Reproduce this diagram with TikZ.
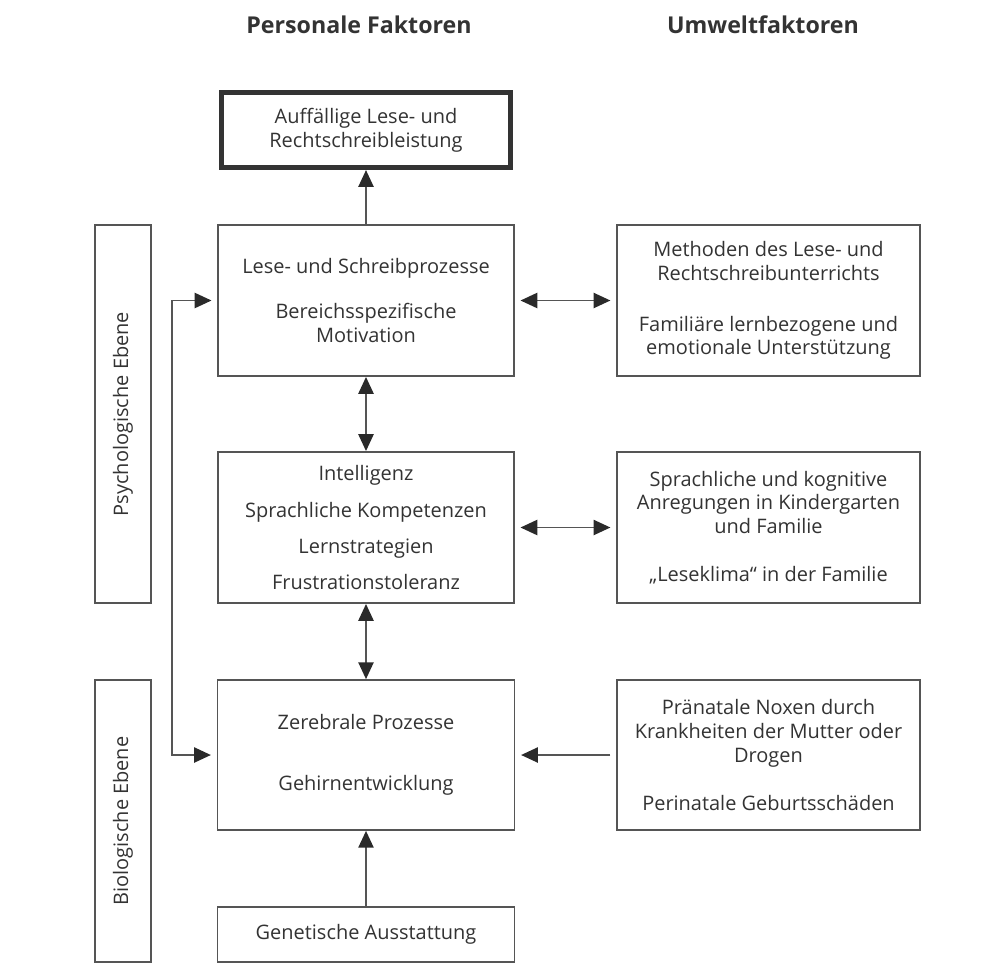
\documentclass[tikz,border=0pt]{standalone}
\usepackage{fontspec}
\setmainfont{Open Sans}
\usepackage{tikz}
\usetikzlibrary{arrows.meta, positioning}

\definecolor{linegray}{HTML}{555555}
\definecolor{textgray}{HTML}{333333}
\definecolor{tipgray}{HTML}{2A2A2A}

\begin{document}
\begin{tikzpicture}[x=0.025cm, y=-0.025cm, >={Triangle[length=0.42cm, width=0.38cm, color=tipgray]}]

\tikzstyle{box}=[draw=linegray, line width=1.2pt, text=textgray, align=center, inner sep=0pt, font=\fontsize{14.2}{17}\selectfont]
\tikzstyle{head}=[text=textgray, font=\fontsize{16.5}{19}\selectfont\bfseries]
\tikzstyle{link}=[draw=linegray, line width=1.2pt]
\tikzstyle{gap}=[shorten <=4pt, shorten >=4pt]

\useasboundingbox (0,0) rectangle (1004,967);

% headings
\node[head] (hpers) at (359,25) {Personale Faktoren};
\node[head] (humw) at (763,25) {Umweltfaktoren};

% personal factors
\node[box, draw=textgray, line width=3.5pt, minimum width=7.23cm, minimum height=1.88cm] (result) at (366,130)
  {Auffällige Lese- und\\Rechtschreibleistung};
\node[box, minimum width=7.4cm, minimum height=3.78cm] (proc) at (366,300.5)
  {Lese- und Schreibprozesse\\[15pt]Bereichsspezifische\\Motivation};
\node[box, minimum width=7.4cm, minimum height=3.78cm] (komp) at (366,527.5)
  {Intelligenz\\[9pt]Sprachliche Kompetenzen\\[9pt]Lernstrategien\\[8pt]Frustrationstoleranz};
\node[box, minimum width=7.43cm, minimum height=3.75cm] (zere) at (366,755)
  {Zerebrale Prozesse\\[26pt]Gehirnentwicklung};
\node[box, minimum width=7.43cm, minimum height=1.38cm] (gene) at (366,934.5)
  {Genetische Ausstattung};

% environmental factors
\node[box, minimum width=7.58cm, minimum height=3.78cm] (meth) at (768.5,300.5)
  {Methoden des Lese- und\\Rechtschreibunterrichts\\[19pt]Familiäre lernbezogene und\\emotionale Unterstützung};
\node[box, minimum width=7.58cm, minimum height=3.78cm] (anreg) at (768.5,527.5)
  {Sprachliche und kognitive\\Anregungen in Kindergarten\\und Familie\\[17pt]„Leseklima“ in der Familie};
\node[box, minimum width=7.58cm, minimum height=3.75cm] (noxen) at (768.5,755)
  {Pränatale Noxen durch\\Krankheiten der Mutter oder\\Drogen\\[17pt]Perinatale Geburtsschäden};

% levels
\node[box, rotate=90, minimum width=9.45cm, minimum height=1.4cm] (psy) at (123,414) {Psychologische Ebene};
\node[box, rotate=90, minimum width=7.05cm, minimum height=1.4cm] (bio) at (123,821) {Biologische Ebene};

% connectors
\coordinate (lk) at (172,0);

\draw[link, ->] (proc) -- (result);
\draw[link, <->] (proc) -- (komp);
\draw[link, <->] (komp) -- (zere);
\draw[link, ->] (gene) -- (zere);

\draw[link, gap, <->] (proc) -- (meth);
\draw[link, gap, <->] (komp) -- (anreg);
\draw[link, gap, ->] (noxen) -- (zere);

\draw[link, gap, <->] (proc.west) -- (proc.west -| lk) -- (zere.west -| lk) -- (zere.west);

\end{tikzpicture}
\end{document}
